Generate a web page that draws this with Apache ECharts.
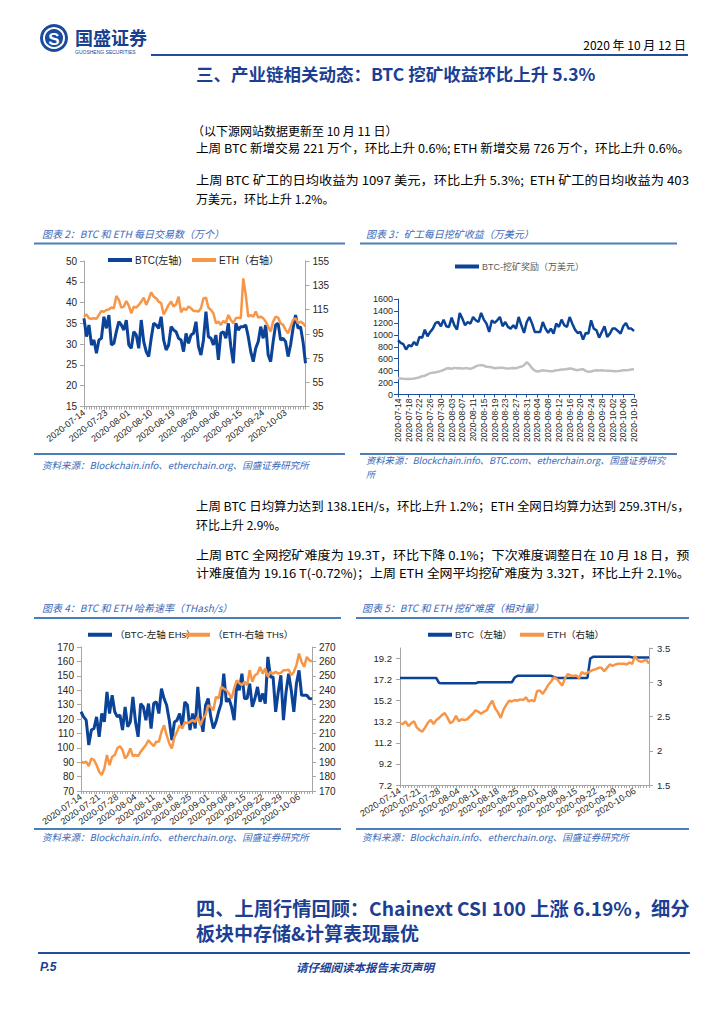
<!DOCTYPE html>
<html><head><meta charset="utf-8">
<script src="https://cdn.jsdelivr.net/npm/echarts@6/dist/echarts.min.js"></script>
<style>html,body{margin:0;padding:0;background:#fff}#c{width:724px;height:1024px}</style>
</head><body><div id="c"></div>
<script>
// ---------------- data ----------------
function buildDates(start, n) {
  const out = []; const d = new Date(start + 'T00:00:00Z');
  for (let i = 0; i < n; i++) { out.push(d.toISOString().slice(0, 10)); d.setUTCDate(d.getUTCDate() + 1); }
  return out;
}
const datesA = buildDates('2020-07-14', 90);   // charts 2, 4, 5
const datesB = buildDates('2020-07-14', 89);   // chart 3

// Chart 2: daily transactions (万个)
const btcTx = [36.2,31.8,34.6,29.8,31,27.8,31,31.4,36.6,33.8,
  37,29.8,30.2,33,35.4,34.6,33.4,35.8,29.8,29,
  33,32.2,29,35.8,30.6,28.2,27,31.4,35,34.6,
  33.8,36.6,31,28.6,29.8,34.2,33.4,33,31.4,31,
  28.2,32.6,30.2,32.2,32.6,35.4,29.4,27.4,31,37.8,
  31.8,31.4,29.8,32.2,26.2,32.6,33,31.4,35,29.4,
  25.4,35,33.4,34.2,34.2,34.6,31.8,28.2,25.8,29,
  30.6,34.2,31.4,34.6,27.4,25.8,30.6,34.6,35,31,
  31.4,30.6,27,29.8,33.8,37,33.8,34.2,30.6,25.4];
const ethTx = [109.1,111,107.8,107.3,107.8,107.3,110.5,113.8,113.2,114.6,
  115.1,116.6,116,126.2,122.9,116.6,117.4,122,118.2,111.9,
  117.4,116.6,118.8,121.5,124.8,118.8,123.4,129.2,125.6,124.2,
  121.5,120.1,111,114.6,118.8,121.5,117.4,119.3,125.6,112.7,
  116,114.6,117.4,116,113.8,113.8,113.3,116,124.2,124.8,
  116.6,114.6,111.9,103.7,105,102.3,105.6,103.7,110.5,106.4,
  103.7,107.8,108.3,107.8,140.7,127,109.1,110.5,109.1,113.3,
  108.3,109.1,107.8,105,100.9,96.8,105,109.1,108.3,103.7,
  102.3,98.2,95.4,100.9,106.4,107.8,103.7,105,103.7,100.9];

// Chart 3: miners' daily revenue (万美元)
const btcReward = [909,864,842,753,825,808,881,825,965,948,
  1087,976,1048,1104,1199,1215,1143,1254,1143,1132,
  1288,1160,1087,1366,1271,1160,1215,1187,1299,1243,
  1215,1366,1254,1187,1048,1243,1199,1243,1299,1143,
  1215,1132,1104,1160,1104,1299,1160,1031,1215,1299,
  1187,1048,1048,1048,1215,1104,1031,1104,1020,1187,
  1132,1254,1160,1132,1299,1187,1087,1031,1048,920,
  1031,1020,1243,1104,1076,953,1048,1143,965,1020,
  1104,1104,1065,1020,1143,1199,1104,1104,1065];
const ethReward = [278,268,262,258,260,262,268,275,290,305,
  315,335,360,365,372,380,395,410,435,440,
  430,446,440,442,435,440,438,430,445,470,
  488,492,485,465,460,455,440,445,448,450,
  440,435,438,445,440,455,465,490,540,500,
  440,400,385,395,405,400,392,388,395,405,
  410,418,420,428,435,430,415,408,420,425,
  395,380,385,400,405,402,407,400,398,396,
  395,390,392,398,405,407,412,418,424];

// Chart 4: hash rate
const btcHash = [125,121.5,119.2,101.9,112.3,113.4,121.5,107.6,123.8,118,
  138.8,123.8,136.5,125,121.5,122.7,112.3,128.4,114.6,118,
  135.4,118,107.6,130.7,128.4,119.2,130.7,113.4,130.7,131.9,
  123.8,141.1,134.2,129.6,119.2,105.3,118,119.2,123.8,114.6,
  131.9,129.6,112.3,123.8,113.4,142.3,121.5,111.1,129.6,134.2,
  121.5,113.4,118,125,130.7,151.5,131.9,134.2,128.4,119.2,
  144.6,140,151.5,134.2,134.2,144.6,128.4,134.2,142.3,131.9,
  137.7,130.7,163.1,149.2,149.2,125,138.8,150.4,119.2,138.8,
  151.5,140,125,144.6,153.8,136.5,136.5,136.5,134.2,134];
const ethHash = [190.3,189.6,190.3,187.3,192.6,191.5,188,183.4,181.1,185.7,
  195,188,193.8,195,199.6,201.2,198.5,192.6,195,199.6,
  194.2,195,194.2,197.3,199.6,201.9,205.3,203,201.2,204.2,
  204.2,211.1,215.7,208.8,203,199.6,207.6,211.1,215.7,213.4,
  218,216.9,218,219.2,218,221.5,215.7,220.3,222.7,229.6,
  228.4,226.1,235.4,234.2,242.3,241.1,240,237.7,234.2,241.1,
  246.9,245,243.4,245.8,243.4,253.8,245.8,250.4,251.5,256.1,
  251.5,255,249.2,252.7,251.5,252.7,251.5,252,253.8,253.8,
  254.3,250.4,252.7,257.3,265.4,259.6,256.1,263.1,260.8,260];

// Chart 5: difficulty
const btcDiff = [17.35,17.35,17.35,17.35,17.35,17.35,17.35,17.35,17.35,17.35,
  17.35,17.35,17.35,17.35,16.87,16.85,16.85,16.85,16.85,16.85,
  16.85,16.85,16.85,16.85,16.85,16.85,16.85,16.85,16.95,16.95,
  16.95,16.95,16.95,16.95,16.95,16.95,16.95,16.95,16.95,16.95,
  16.95,17.4,17.56,17.56,17.56,17.56,17.56,17.56,17.56,17.56,
  17.56,17.56,17.56,17.56,17.56,17.45,17.36,17.36,17.36,17.36,
  17.36,17.36,17.36,17.36,17.36,17.36,17.36,17.36,19.2,19.36,
  19.36,19.36,19.36,19.36,19.36,19.36,19.36,19.36,19.36,19.36,
  19.36,19.36,19.36,19.31,19.31,19.31,19.31,19.31,19.31,19.31];
const ethDiff = [2.40,2.39,2.43,2.36,2.40,2.43,2.34,2.30,2.28,2.34,
  2.41,2.45,2.39,2.45,2.48,2.52,2.55,2.48,2.40,2.43,
  2.51,2.43,2.46,2.45,2.46,2.50,2.54,2.59,2.57,2.54,
  2.57,2.59,2.67,2.73,2.62,2.56,2.48,2.60,2.67,2.73,
  2.72,2.74,2.73,2.75,2.74,2.78,2.72,2.74,2.72,2.87,
  2.88,2.83,2.89,2.96,3.01,3.07,3.05,3.00,2.95,3.06,
  3.12,3.10,3.09,3.10,3.06,3.15,3.12,3.14,3.16,3.18,
  3.19,3.21,3.21,3.16,3.21,3.26,3.24,3.26,3.27,3.27,
  3.27,3.26,3.29,3.27,3.38,3.32,3.30,3.31,3.33,3.27];

// axis ranges [min, max, interval]
const txLeftAxis = [15, 50, 5];
const txRightAxis = [35, 155, 20];
const rewardAxis = [0, 1600, 200];
const hashLeftAxis = [70, 170, 10];
const hashRightAxis = [170, 270, 10];
const diffLeftAxis = [7.2, 20.2, 2];
const diffRightAxis = [1.5, 3.5, 0.5];

// ---------------- style ----------------
const FONT = '"Liberation Sans","Noto Sans CJK SC",sans-serif';
const CJK = '"Noto Sans CJK SC","Liberation Sans",sans-serif';
const C_BTC = '#0b4398', C_ETH = '#f79646', C_GRAY = '#bfbfbf';
const C_TITLE = '#1c3f94', C_CAP = '#3a68b8', C_RULE = '#4a7ebb';
const AX = '#a6a6a6', LBL = '#262626';

const mctx = document.createElement('canvas').getContext('2d');
function T(text, x, y, o) {
  o = o || {};
  const align = o.align || 'left';
  const el = { type: 'text', x: x, y: y, silent: true, z: 10,
    style: { text: text, fill: o.fill || '#000', fontSize: o.size || 12, fontFamily: o.family || CJK,
      fontWeight: o.weight || 'normal', fontStyle: o.style || 'normal',
      align: align, textAlign: align, verticalAlign: 'middle', textVerticalAlign: 'middle' } };
  if (o.width) {   // justify a full line to the column width
    mctx.font = (o.style || 'normal') + ' ' + (o.weight || 'normal') + ' ' + (o.size || 12) + 'px ' + (o.family || CJK);
    const w = mctx.measureText(text).width;
    if (w > 0) el.scaleX = Math.max(0.9, Math.min(1.12, o.width / w));
  }
  return el;
}
function R(x1, y1, x2, y2, color, w) {
  return { type: 'line', silent: true, shape: { x1, y1, x2, y2 }, style: { stroke: color, lineWidth: w } };
}
function L(name, left, top, color, size) {
  return { data: [name], left: left, top: top, icon: 'rect', itemWidth: 24, itemHeight: 4, itemGap: 0,
    padding: 0, selectedMode: false, textStyle: { fontSize: size, color: color, fontFamily: FONT, padding: [0, 0, 0, -2] } };
}
function xAx(grid, data, o) {
  return { type: 'category', gridIndex: grid, data: data, boundaryGap: false,
    axisLine: { show: true, lineStyle: { color: o.lineColor || AX, width: 1 } },
    axisTick: { show: true, interval: o.tickInterval, length: 3, lineStyle: { color: o.lineColor || AX } },
    axisLabel: { interval: o.labelInterval, rotate: o.rotate, fontSize: o.size || 9, color: LBL, fontFamily: FONT, margin: o.margin || 5 },
    splitLine: { show: false } };
}
function yAx(grid, rng, pos, o) {
  o = o || {};
  return { type: 'value', gridIndex: grid, position: pos, min: rng[0], max: rng[1], interval: rng[2],
    axisLine: { show: true, lineStyle: { color: o.lineColor || AX } },
    axisTick: { show: true, inside: false, length: 4, lineStyle: { color: o.lineColor || AX } },
    axisLabel: Object.assign({ fontSize: o.size || 10, color: LBL, fontFamily: FONT, margin: o.margin || 6,
      formatter: v => String(v) }, o.label || {}),
    splitLine: { show: false } };
}
function S(name, xi, yi, data, color, width, z) {
  return { type: 'line', name: name, xAxisIndex: xi, yAxisIndex: yi, data: data, symbol: 'none',
    lineStyle: { color: color, width: width }, itemStyle: { color: color }, z: z || 2, animation: false };
}

const COLW = 494;   // text column width (196 → 690)
const graphics = [
  // header
  { type: 'circle', silent: true, shape: { cx: 54, cy: 38, r: 14 }, style: { fill: '#1a4b9c' } },
  { type: 'circle', silent: true, shape: { cx: 54, cy: 38, r: 10 }, style: { fill: 'none', stroke: '#fff', lineWidth: 2 } },
  T('S', 54, 39, { fill: '#fff', size: 17, weight: 'bold', family: FONT, align: 'center' }),
  T('国盛证券', 75, 37, { fill: '#1b3f8f', size: 18, weight: 'bold' }),
  T('GUOSHENG SECURITIES', 75, 52, { fill: '#1b3f8f', size: 5, family: FONT }),
  T('2020 年 10 月 12 日', 686, 44, { size: 12, align: 'right' }),
  R(151, 55, 688, 55, '#1f4e9a', 2),
  T('三、产业链相关动态：BTC 挖矿收益环比上升 5.3%', 196, 73, { fill: C_TITLE, size: 17.5, weight: 'bold' }),
  // paragraph 1
  T('（以下源网站数据更新至 10 月 11 日）', 192, 130),
  T('上周 BTC 新增交易 221 万个，环比上升 0.6%; ETH 新增交易 726 万个，环比上升 0.6%。', 196, 148, { width: COLW }),
  T('上周 BTC 矿工的日均收益为 1097 美元，环比上升 5.3%;  ETH 矿工的日均收益为 403', 196, 180, { width: COLW }),
  T('万美元，环比上升 1.2%。', 196, 198),
  // chart 2/3 frame
  T('图表 2：BTC 和 ETH 每日交易数（万个）', 42, 233, { fill: C_CAP, size: 10, style: 'italic' }),
  T('图表 3：矿工每日挖矿收益（万美元）', 366, 233, { fill: C_CAP, size: 10, style: 'italic' }),
  R(34, 243.5, 345, 243.5, C_RULE, 2), R(360, 243.5, 677, 243.5, C_RULE, 2),
  R(34, 454, 345, 454, C_RULE, 2), R(360, 454, 677, 454, C_RULE, 2),
  T('资料来源：Blockchain.info、etherchain.org、国盛证券研究所', 42, 465, { fill: C_CAP, size: 9.5, style: 'italic' }),
  T('资料来源：Blockchain.info、BTC.com、etherchain.org、国盛证券研究', 366, 459.5, { fill: C_CAP, size: 9.3, style: 'italic' }),
  T('所', 366, 474, { fill: C_CAP, size: 9, style: 'italic' }),
  // paragraph 2
  T('上周 BTC 日均算力达到 138.1EH/s，环比上升 1.2%；ETH 全网日均算力达到 259.3TH/s，', 196, 506, { width: COLW }),
  T('环比上升 2.9%。', 196, 524),
  T('上周 BTC 全网挖矿难度为 19.3T，环比下降 0.1%；下次难度调整日在 10 月 18 日，预', 196, 555, { width: COLW }),
  T('计难度值为 19.16 T(-0.72%)；上周 ETH 全网平均挖矿难度为 3.32T，环比上升 2.1%。', 196, 573, { width: COLW }),
  // chart 4/5 frame
  T('图表 4：BTC 和 ETH 哈希速率（THash/s）', 42, 607, { fill: C_CAP, size: 10, style: 'italic' }),
  T('图表 5：BTC 和 ETH 挖矿难度（相对量）', 362, 607, { fill: C_CAP, size: 10, style: 'italic' }),
  R(34, 618, 341, 618, C_RULE, 2), R(356, 618, 689, 618, C_RULE, 2),
  R(34, 829, 341, 829, C_RULE, 2), R(356, 829, 689, 829, C_RULE, 2),
  T('资料来源：Blockchain.info、etherchain.org、国盛证券研究所', 42, 837, { fill: C_CAP, size: 9.5, style: 'italic' }),
  T('资料来源：Blockchain.info、etherchain.org、国盛证券研究所', 362, 837, { fill: C_CAP, size: 9.5, style: 'italic' }),
  // section 4 title
  T('四、上周行情回顾：Chainext CSI 100 上涨 6.19%，细分', 196, 908, { fill: C_TITLE, size: 19, weight: 'bold', width: COLW }),
  T('板块中存储&计算表现最优', 196, 932, { fill: C_TITLE, size: 19, weight: 'bold' }),
  // footer
  R(38, 953, 690, 953, '#1f4e9a', 2),
  T('P.5', 40, 967, { fill: C_TITLE, size: 12, weight: 'bold', style: 'italic', family: FONT }),
  T('请仔细阅读本报告末页声明', 365, 967, { fill: C_TITLE, size: 11.5, weight: 'bold', style: 'italic', align: 'center' })
];

const option = {
  animation: false,
  backgroundColor: '#fff',
  grid: [
    { left: 84, top: 261, width: 221.5, height: 145.5 },
    { left: 398, top: 299, width: 236, height: 95.5 },
    { left: 81, top: 647, width: 231, height: 144 },
    { left: 400, top: 648, width: 249, height: 137 }
  ],
  xAxis: [
    xAx(0, datesA, { tickInterval: 0, labelInterval: 8, rotate: 38, size: 9 }),
    xAx(1, datesB, { tickInterval: 3, labelInterval: 3, rotate: 90, size: 8.5, lineColor: '#1f4e9a', margin: 4 }),
    xAx(2, datesA, { tickInterval: 0, labelInterval: 6, rotate: 35, size: 9 }),
    xAx(3, datesA, { tickInterval: 0, labelInterval: 6, rotate: 32, size: 9 })
  ],
  yAxis: [
    yAx(0, txLeftAxis, 'left', { margin: 7 }),
    yAx(0, txRightAxis, 'right', { margin: 7 }),
    yAx(1, rewardAxis, 'left', { lineColor: '#1f4e9a', size: 9, margin: 5 }),
    yAx(2, hashLeftAxis, 'left', { margin: 7 }),
    yAx(2, hashRightAxis, 'right', { margin: 7 }),
    yAx(3, diffLeftAxis, 'left', { size: 9.5, margin: 8, label: { showMaxLabel: false, formatter: v => v.toFixed(1) } }),
    yAx(3, diffRightAxis, 'right', { size: 9.5, margin: 8 })
  ],
  legend: [
    L('BTC(左轴)', 108, 255, '#222', 10),
    L('ETH（右轴）', 192, 255, '#222', 10),
    L('BTC-挖矿奖励（万美元）', 455, 262, '#595959', 9),
    L('（BTC-左轴 EHs）', 88, 630, '#222', 9.5),
    L('（ETH-右轴 THs）', 186, 630, '#222', 9.5),
    L('BTC（左轴）', 428, 630, '#222', 9.5),
    L('ETH（右轴）', 520, 630, '#222', 9.5)
  ],
  series: [
    S('BTC(左轴)', 0, 0, btcTx, C_BTC, 3),
    S('ETH（右轴）', 0, 1, ethTx, C_ETH, 2.5, 3),
    S('BTC-挖矿奖励（万美元）', 1, 2, btcReward, C_BTC, 2.5, 3),
    S('ETH-挖矿奖励（万美元）', 1, 2, ethReward, C_GRAY, 2.5),
    S('（BTC-左轴 EHs）', 2, 3, btcHash, C_BTC, 3),
    S('（ETH-右轴 THs）', 2, 4, ethHash, C_ETH, 2.5, 3),
    S('BTC（左轴）', 3, 5, btcDiff, C_BTC, 2.5),
    S('ETH（右轴）', 3, 6, ethDiff, C_ETH, 2.5, 3)
  ],
  graphic: graphics
};
const chart = echarts.init(document.getElementById('c'), null, { renderer: 'svg', width: 724, height: 1024 });
chart.setOption(option);
</script>
</body></html>
